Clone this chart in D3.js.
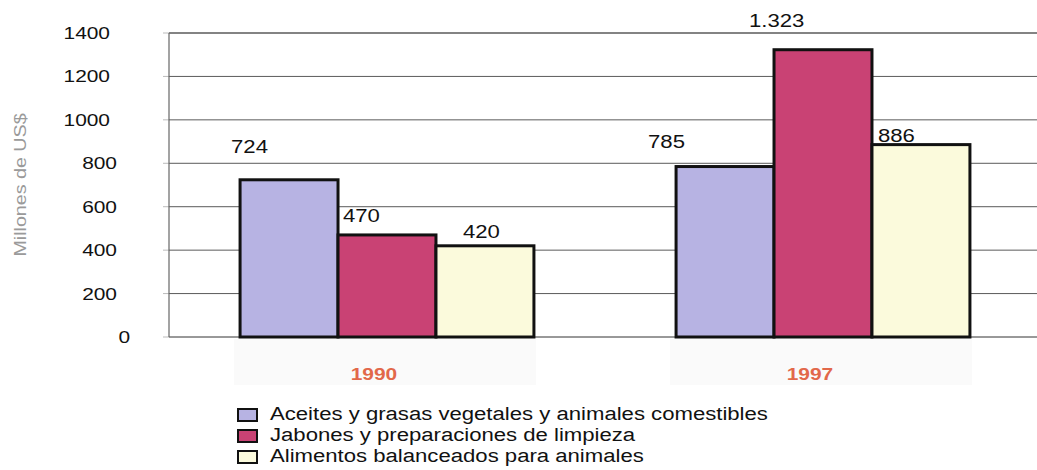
<!DOCTYPE html>
<html>
<head>
<meta charset="utf-8">
<script src="https://cdn.jsdelivr.net/npm/d3@7"></script>
<style>
  html, body { margin: 0; padding: 0; background: #fff; }
  svg { display: block; }
  text { font-family: "Liberation Sans", Arial, sans-serif; }
</style>
</head>
<body>
<svg id="chart" width="1037" height="470"></svg>
<script>
// ---- data ----
const years = ["1990", "1997"];
const seriesNames = [
  "Aceites y grasas vegetales y animales comestibles",
  "Jabones y preparaciones de limpieza",
  "Alimentos balanceados para animales"
];
const aceites = [724, 785];
const jabones = [470, 1323];
const alimentos = [420, 886];
const valueLabels = [["724", "785"], ["470", "1.323"], ["420", "886"]];
const yTicks = [0, 200, 400, 600, 800, 1000, 1200, 1400];
const yTitle = "Millones de US$";

// ---- styling / layout ----
const colors = ["#b7b3e3", "#c94274", "#fbfadc"];
const SX = 1.23; // horizontal text stretch of the original
// label offsets relative to bar's left / top: [series][year] -> [dx, dy]
const labelOffsets = [
  [[-9, -27], [-28, -19]],
  [[5, -13], [-25, -23]],
  [[27, -8], [6, -3]]
];

const svg = d3.select("#chart");
const seriesValues = [aceites, jabones, alimentos];

const x0 = d3.scaleBand().domain(years).range([169, 1041])
  .paddingInner(0.326).paddingOuter(0.163);
const x1 = d3.scaleBand().domain(d3.range(seriesNames.length))
  .range([0, x0.bandwidth()]).padding(0);
const y = d3.scaleLinear().domain([0, 1400]).range([337, 33]);

function stretchedText(g, x, yy, txt, anchor) {
  return g.append("text")
    .attr("transform", `translate(${x},${yy}) scale(${SX},1)`)
    .attr("text-anchor", anchor || "start")
    .text(txt);
}

// faint panels behind category labels
years.forEach(yr => {
  svg.append("rect")
    .attr("x", x0(yr) - 6).attr("y", y(0) + 2)
    .attr("width", x0.bandwidth() + 8).attr("height", 46)
    .attr("fill", "#fafafa");
});

// gridlines
const grid = svg.append("g");
yTicks.forEach(t => {
  grid.append("line")
    .attr("x1", 169).attr("x2", 1037)
    .attr("y1", y(t)).attr("y2", y(t))
    .attr("stroke", t === 0 ? "#333" : "#5a5a5a")
    .attr("stroke-width", t === 1400 ? 1.5 : 1);
  grid.append("line")
    .attr("x1", 163).attr("x2", 169)
    .attr("y1", y(t)).attr("y2", y(t))
    .attr("stroke", "#bbb").attr("stroke-width", 1);
});
// left axis line
svg.append("line").attr("x1", 169).attr("x2", 169)
  .attr("y1", y(1400)).attr("y2", y(0))
  .attr("stroke", "#666").attr("stroke-width", 1.2);

// y tick labels
const yl = svg.append("g").attr("font-size", 17).attr("fill", "#111");
yTicks.forEach(t => {
  const s = String(t);
  const dx = s.length === 4 ? -7 : (s.length === 1 ? 13 : 0);
  stretchedText(yl, 117 + dx, y(t) + 6, s, "end");
});

// y title
svg.append("text")
  .attr("transform", `translate(26,${185}) rotate(-90) scale(${SX},1)`)
  .attr("text-anchor", "middle")
  .attr("font-size", 16).attr("fill", "#9a9a9a")
  .text(yTitle);

// bars
const bars = svg.append("g");
seriesValues.forEach((vals, si) => {
  years.forEach((yr, yi) => {
    bars.append("rect")
      .attr("x", x0(yr) + x1(si))
      .attr("y", y(vals[yi]))
      .attr("width", x1.bandwidth())
      .attr("height", y(0) - y(vals[yi]))
      .attr("fill", colors[si])
      .attr("stroke", "#111")
      .attr("stroke-width", 3);
  });
});

// value labels
const vl = svg.append("g").attr("font-size", 18).attr("fill", "#111");
seriesValues.forEach((vals, si) => {
  years.forEach((yr, yi) => {
    const off = labelOffsets[si][yi];
    stretchedText(vl, x0(yr) + x1(si) + off[0], y(vals[yi]) + off[1], valueLabels[si][yi], "start");
  });
});

// category labels
const cl = svg.append("g").attr("font-size", 17).attr("font-weight", "bold").attr("fill", "#e2684a");
years.forEach(yr => {
  stretchedText(cl, x0(yr) + x0.bandwidth() / 2 - 13, 380, yr, "middle");
});

// legend
const lg = svg.append("g").attr("transform", "translate(238,420)");
seriesNames.forEach((name, i) => {
  const row = lg.append("g").attr("transform", `translate(0,${i * 21})`);
  row.append("rect").attr("x", 0).attr("y", -11).attr("width", 19).attr("height", 12)
    .attr("fill", colors[i]).attr("stroke", "#111").attr("stroke-width", 2);
  row.append("text")
    .attr("transform", `translate(32,0) scale(${SX},1)`)
    .attr("font-size", 18).attr("fill", "#111")
    .text(name);
});
</script>
</body>
</html>
